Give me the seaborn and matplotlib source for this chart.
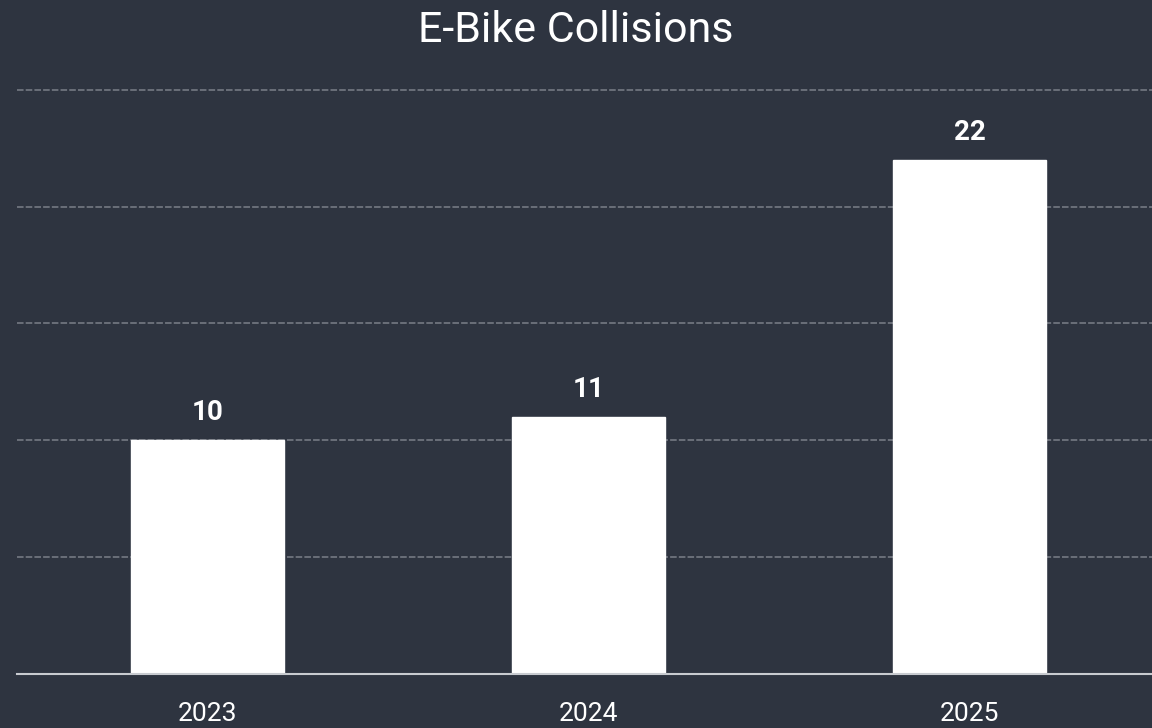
import matplotlib

matplotlib.use('Agg')
import matplotlib.pyplot as plt
import pandas as pd
import seaborn as sns

years = ['2023', '2024', '2025']
collisions = [10, 11, 22]

BG = '#2e3440'
GRID = '#7a7f88'


def main():
    sns.set_theme(style='dark')
    plt.rcParams['font.family'] = ['Roboto', 'DejaVu Sans']

    df = pd.DataFrame({'year': years, 'collisions': collisions})

    fig = plt.figure(figsize=(11.52, 7.28), dpi=100, facecolor=BG)
    # axes box in figure fractions, matched to the reference layout
    ax = fig.add_axes([17 / 1152, (728 - 674) / 728, 1143 / 1152, (674 - 78) / 728])
    ax.set_facecolor(BG)

    sns.barplot(data=df, x='year', y='collisions', color='white', width=0.4,
                saturation=1, ax=ax, zorder=3)

    ax.set_xlim(-0.5, 2.5)
    ax.set_ylim(0, 25.5)
    ax.set_yticks([5, 10, 15, 20, 25])
    ax.yaxis.grid(True, color=GRID, linewidth=1.1, linestyle=(0, (4.3, 1.4)), zorder=0)
    ax.xaxis.grid(False)
    ax.tick_params(axis='y', left=False, labelleft=False)
    ax.tick_params(axis='x', bottom=False, colors='white', labelsize=19, pad=14)
    ax.set_xlabel('')
    ax.set_ylabel('')

    for side in ['left', 'right', 'top']:
        ax.spines[side].set_visible(False)
    ax.spines['bottom'].set_color('#c8cbd0')
    ax.spines['bottom'].set_linewidth(1.5)
    ax.spines['bottom'].set_zorder(4)

    for i, v in enumerate(collisions):
        ax.annotate(str(v), (i, v), xytext=(0, 20), textcoords='offset points',
                    ha='center', va='center', color='white', fontsize=20,
                    fontweight='bold')

    fig.text(0.5, 1 - 30 / 728, 'E-Bike Collisions', ha='center', va='center',
             color='white', fontsize=31)

    fig.savefig('out.png', dpi=100, facecolor=BG)
    plt.close(fig)


if __name__ == '__main__':
    main()
